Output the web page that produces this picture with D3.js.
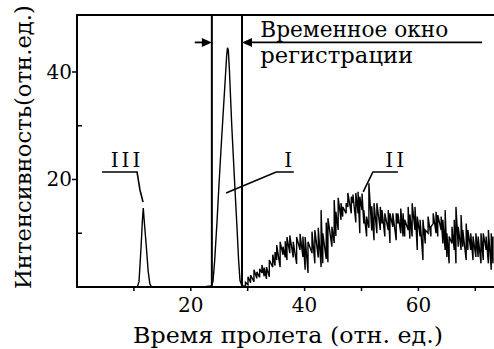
<!DOCTYPE html>
<html><head><meta charset="utf-8">
<script src="https://cdn.jsdelivr.net/npm/d3@7"></script>
<style>html,body{margin:0;padding:0;background:#fff;} svg{display:block;}</style>
</head><body>
<script>
// ---- data ----
const xTicks = [10, 20, 30, 40, 50, 60, 70];
const xTickLabels = [20, 40, 60];
const yTicks = [10, 20, 30, 40];
const yTickLabels = [20, 40];

const peakIIITime  = [10.6, 10.9, 11.25, 11.5, 11.65, 11.8, 12.2, 12.5, 12.8, 13.1];
const peakIIIValue = [0, 1.0, 7.3, 12.5, 14.7, 12.5, 7.3, 3.0, 0.6, 0];

const peakITime  = [22.0, 23.6, 23.9, 24.2, 24.6, 24.9, 25.3, 25.7, 26.1, 26.3, 26.45, 26.6, 26.8, 27.2, 27.7, 28.1, 28.4, 28.65, 29.0];
const peakIValue = [0, 0.2, 1.0, 5, 12, 18, 25.5, 32.5, 39.5, 43, 44.5, 44, 40, 30, 19.5, 11.5, 5, 1.2, 0.2];

const noiseTime = [
  29.6, 30.05, 30.5, 31.1, 31.6, 32.1, 32.5, 32.9, 33.3, 33.8,
  34.4, 34.8, 35.1, 35.7, 36.2, 36.6, 36.9, 37.4, 38.0, 38.6,
  39.2, 39.7, 40.1, 40.6, 41.3, 41.8, 42.4, 42.9, 43.2, 43.8,
  44.1, 44.8, 45.2, 45.5, 45.9, 46.4, 46.7, 47.3, 47.6, 48.2,
  48.5, 49.0, 49.4, 49.7, 50.1, 50.4, 50.9, 51.3, 51.8, 52.2,
  52.7, 53.3, 53.6, 54.1, 54.7, 55.0, 55.5, 56.1, 56.4, 56.9,
  57.3, 57.6, 58.2, 58.5, 58.9, 59.4, 59.8, 60.3, 60.8, 61.2,
  61.7, 62.2, 62.6, 63.1, 63.4, 64.0, 64.3, 64.7, 65.0, 65.4,
  65.9, 66.3, 66.6, 67.0, 67.5, 67.8, 68.4, 68.7, 69.2, 69.6,
  70.1, 70.5, 71.0, 71.4, 71.9, 72.3, 72.8, 73.1];
const noiseLow = [
  0.2, 0.4, 0.8, 1.0, 1.6, 1.8, 2.6, 2.0, 1.5, 1.9,
  3.7, 4.0, 5.0, 3.7, 6.0, 5.5, 5.0, 6.3, 5.5, 4.3,
  6.9, 5.6, 3.2, 2.6, 6.3, 4.4, 5.5, 3.7, 4.4, 5.2,
  4.6, 7.5, 8.2, 9.5, 10.6, 12.5, 13.1, 13.7, 14.9, 13.7,
  15.6, 12.0, 13.7, 10.0, 14.3, 11.8, 9.4, 11.0, 10.5, 8.7,
  10.0, 10.6, 11.8, 9.4, 10.6, 8.2, 11.2, 8.7, 11.8, 10.0,
  9.4, 9.4, 10.6, 9.0, 9.4, 10.6, 6.9, 9.4, 5.0, 8.1,
  10.0, 9.4, 11.8, 10.0, 9.4, 10.6, 8.1, 6.9, 5.6, 4.4,
  8.1, 6.9, 4.4, 7.5, 6.9, 7.5, 5.0, 6.9, 6.9, 5.0,
  5.6, 5.6, 4.4, 5.0, 6.9, 4.4, 3.2, 4.4];
const noiseHigh = [
  0.9, 1.9, 2.2, 3.2, 2.8, 3.4, 4.1, 3.6, 3.7, 5.0,
  6.0, 6.5, 7.8, 8.4, 7.5, 8.5, 9.3, 9.6, 8.4, 9.3,
  9.9, 9.4, 9.3, 8.4, 10.3, 10.6, 11.0, 14.3, 10.0, 12.0,
  12.8, 11.2, 16.2, 14.0, 16.6, 15.6, 14.9, 15.6, 17.5, 16.8,
  17.2, 17.5, 17.7, 16.8, 17.4, 14.3, 13.1, 19.3, 15.0, 15.6,
  15.6, 14.9, 14.3, 13.7, 14.3, 13.7, 13.7, 13.7, 13.7, 14.6,
  13.7, 12.5, 14.9, 13.5, 15.6, 14.9, 13.1, 12.5, 12.5, 10.6,
  13.1, 11.2, 13.7, 14.0, 13.4, 13.1, 12.5, 14.3, 10.0, 9.4,
  11.2, 12.5, 14.9, 11.2, 13.4, 10.6, 11.8, 10.6, 10.0, 9.4,
  10.0, 9.4, 10.0, 10.0, 9.4, 10.6, 10.0, 9.4];

const windowStart = 23.7, windowEnd = 29.0;
const xTitle = "Время пролета (отн. ед.)";
const yTitle = "Интенсивность(отн.ед.)";
const windowLabel = ["Временное окно", "регистрации"];
const peakLabels = ["III", "I", "II"];

// ---- layout ----
const W = 494, H = 349;
const svg = d3.select("body").append("svg").attr("width", W).attr("height", H)
  .style("background", "#fff");
const font = "'DejaVu Serif', 'Liberation Serif', serif";

const x = d3.scaleLinear().domain([0, 73.5]).range([77, 77 + 73.5 * 5.69]);
const y = d3.scaleLinear().domain([0, 50.6]).range([287, 15]);

// frame
const frame = svg.append("g").attr("stroke", "#000").attr("stroke-width", 2).attr("fill", "none");
frame.append("line").attr("x1", x(0)).attr("x2", x(0)).attr("y1", y(0) + 1).attr("y2", y(50.6));
frame.append("line").attr("x1", x(0) - 1).attr("x2", W).attr("y1", y(50.6)).attr("y2", y(50.6));
frame.append("line").attr("x1", x(0) - 1).attr("x2", W).attr("y1", y(0)).attr("y2", y(0));

// x ticks
svg.append("g").selectAll("line").data(xTicks).join("line")
  .attr("x1", d => x(d)).attr("x2", d => x(d)).attr("y1", y(0)).attr("y2", y(0) + 4)
  .attr("stroke", "#000").attr("stroke-width", 1.5);
svg.append("g").selectAll("text").data(xTickLabels).join("text")
  .attr("x", d => x(d)).attr("y", 312).attr("text-anchor", "middle")
  .attr("font-family", font).attr("font-size", 20).text(d => d);

// y ticks
svg.append("g").selectAll("line").data(yTicks).join("line")
  .attr("x1", d => yTickLabels.includes(d) ? x(0) - 5 : x(0))
  .attr("x2", d => yTickLabels.includes(d) ? x(0) : x(0) + 5)
  .attr("y1", d => y(d)).attr("y2", d => y(d))
  .attr("stroke", "#000").attr("stroke-width", 1.5);
svg.append("g").selectAll("text").data(yTickLabels).join("text")
  .attr("x", 72).attr("y", d => y(d) + 7).attr("text-anchor", "end")
  .attr("font-family", font).attr("font-size", 20).text(d => d);

// titles
svg.append("text").attr("x", 133).attr("y", 343)
  .attr("font-family", font).attr("font-size", 22)
  .attr("textLength", 310).attr("lengthAdjust", "spacingAndGlyphs").text(xTitle);
const yt = svg.append("text").attr("transform", "translate(31,289) rotate(-90)")
  .attr("font-family", font).attr("font-size", 24).text(yTitle);
const natural = yt.node().getComputedTextLength();
yt.attr("font-size", 24 * 284 / natural);

// window lines
svg.append("g").selectAll("line").data([windowStart, windowEnd]).join("line")
  .attr("x1", d => x(d)).attr("x2", d => x(d)).attr("y1", y(50.6)).attr("y2", y(0))
  .attr("stroke", "#000").attr("stroke-width", 2);

// arrows
const ay = y(45.5);
svg.append("line").attr("x1", x(20.7)).attr("x2", x(windowStart) - 8).attr("y1", ay).attr("y2", ay)
  .attr("stroke", "#000").attr("stroke-width", 1.8);
svg.append("path").attr("d", `M${x(windowStart)},${ay} l-10,-4.5 l0,9 z`).attr("fill", "#000");
svg.append("line").attr("x1", x(windowEnd) + 8).attr("x2", x(71.2)).attr("y1", ay).attr("y2", ay)
  .attr("stroke", "#000").attr("stroke-width", 1.8);
svg.append("path").attr("d", `M${x(windowEnd)},${ay} l10,-4.5 l0,9 z`).attr("fill", "#000");

svg.append("text").attr("x", x(32.2)).attr("y", y(46.5))
  .attr("font-family", font).attr("font-size", 22)
  .attr("textLength", 188).attr("lengthAdjust", "spacingAndGlyphs").text(windowLabel[0]);
svg.append("text").attr("x", x(32.2)).attr("y", y(41.7))
  .attr("font-family", font).attr("font-size", 22)
  .attr("textLength", 153).attr("lengthAdjust", "spacingAndGlyphs").text(windowLabel[1]);

// data curve
const pts = [[0, 0]];
peakIIITime.forEach((t, i) => pts.push([t, peakIIIValue[i]]));
peakITime.forEach((t, i) => pts.push([t, peakIValue[i]]));
noiseTime.forEach((t, i) => { pts.push([t, noiseLow[i]]); pts.push([t, noiseHigh[i]]); });
svg.append("defs").append("clipPath").attr("id", "clip").append("rect")
  .attr("x", x(0)).attr("y", y(50.6)).attr("width", W - x(0)).attr("height", y(0) - y(50.6));
svg.append("path").attr("clip-path", "url(#clip)")
  .attr("d", d3.line().x(d => x(d[0])).y(d => y(d[1]))(pts))
  .attr("fill", "none").attr("stroke", "#000").attr("stroke-width", 1.4).attr("stroke-linejoin", "miter");

// peak labels + leaders
const leaders = [
  [[4.4, 21.4], [10.55, 21.4], [11.07, 18.05], [11.6, 15.8]],
  [[38.1, 21.4], [35.0, 21.4], [26.2, 17.5]],
  [[56.4, 21.4], [52.0, 21.4], [50.3, 17.7]]
];
const labelPos = [8.8, 37.4, 56.1];
svg.append("g").selectAll("path").data(leaders).join("path")
  .attr("d", d => d3.line().x(p => x(p[0])).y(p => y(p[1])).curve(d3.curveLinear)(d))
  .attr("fill", "none").attr("stroke", "#000").attr("stroke-width", 1.6);
svg.append("g").selectAll("text").data(peakLabels).join("text")
  .attr("x", (d, i) => x(labelPos[i])).attr("y", y(22.3)).attr("text-anchor", "middle")
  .attr("font-family", font).attr("font-size", 20).attr("letter-spacing", 3)
  .text(d => d);
</script>
</body></html>
